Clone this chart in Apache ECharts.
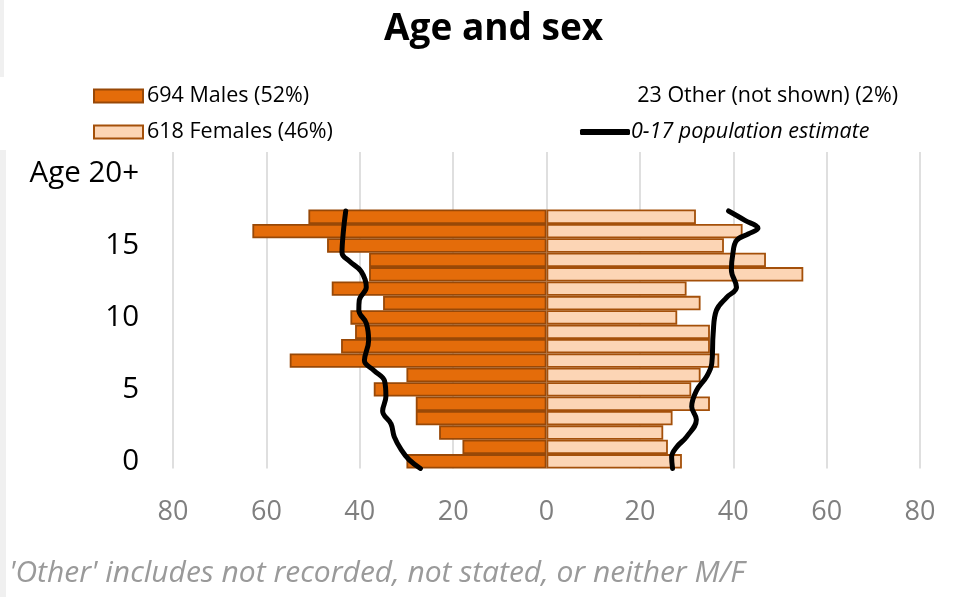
<!DOCTYPE html>
<html>
<head>
<meta charset="utf-8">
<script src="https://cdn.jsdelivr.net/npm/echarts@6/dist/echarts.min.js"></script>
<style>
  html, body { margin: 0; padding: 0; background: #fff; }
  #chart { width: 973px; height: 597px; }
</style>
</head>
<body>
<div id="chart"></div>
<script>
// age categories (0..21, only 0..17 have bars; 20 is labelled "Age 20+")
const ages = ['0','1','2','3','4','5','6','7','8','9','10','11','12','13','14','15','16','17','18','19','20','21'];
const males   = [30, 18, 23, 28, 28, 37, 30, 55, 44, 41, 42, 35, 46, 38, 38, 47, 63, 51];
const females = [29, 26, 25, 27, 35, 31, 33, 37, 35, 35, 28, 33, 30, 55, 47, 38, 42, 32];
const xTicks = [-80, -60, -40, -20, 0, 20, 40, 60, 80];

// 0-17 population estimate, [count, age position]
const maleEstimate = [
  [27.0, -0.5], [29.4, 0.1], [31.1, 0.8], [32.6, 1.7], [33.3, 2.6], [35.1, 3.5],
  [34.4, 4.5], [34.7, 5.6], [36.9, 6.3], [39.0, 7.0], [38.1, 8.4], [38.6, 9.6],
  [40.2, 10.5], [40.1, 11.2], [38.6, 12.1], [39.7, 13.2], [42.2, 13.9], [43.8, 14.5],
  [43.5, 16.0], [43.0, 17.4]
];
const femaleEstimate = [
  [27.0, -0.5], [26.8, 0.3], [27.9, 1.0], [30.0, 1.7], [32.1, 2.9], [31.1, 3.8],
  [32.1, 4.9], [34.3, 5.9], [35.4, 6.8], [35.7, 8.9], [36.4, 10.5], [38.6, 11.4],
  [40.7, 12.1], [39.6, 13.3], [39.9, 14.4], [40.7, 15.35], [43.2, 15.8], [45.3, 16.2],
  [42.5, 16.75], [39.0, 17.4]
];

const FONT = '"Open Sans", "Noto Sans", sans-serif';
const chart = echarts.init(document.getElementById('chart'));

chart.setOption({
  backgroundColor: '#fff',
  animation: false,
  title: [
    {
      text: 'Age and sex',
      left: 384, top: 11, padding: 0,
      textStyle: { fontFamily: FONT, fontSize: 37, fontWeight: 'bold', color: '#000' }
    },
    {
      text: "'Other' includes not recorded, not stated, or neither M/F",
      left: 9, top: 558, padding: 0,
      textStyle: { fontFamily: FONT, fontSize: 30, fontStyle: 'italic', fontWeight: 'normal', color: '#9a9a9a' }
    }
  ],
  legend: [
    {
      data: ['694 Males (52%)', '618 Females (46%)'],
      orient: 'vertical',
      left: 93, top: 85, padding: 0,
      icon: 'rect',
      itemWidth: 49, itemHeight: 13, itemGap: 14,
      textStyle: { fontFamily: FONT, fontSize: 21.5, color: '#000', padding: [0, 0, 0, -1] }
    },
    {
      data: [{ name: '0-17 population estimate', icon: 'roundRect', textStyle: { fontStyle: 'italic' } }],
      left: 580, top: 121, padding: 0,
      itemWidth: 50, itemHeight: 6,
      itemStyle: { color: '#000', borderWidth: 0 },
      textStyle: { fontFamily: FONT, fontSize: 21.5, color: '#000', padding: [0, 0, 0, -4] }
    }
  ],
  graphic: [
    { type: 'rect', shape: { x: 0, y: 0, width: 4, height: 77 }, style: { fill: '#f0f0f0' } },
    { type: 'rect', shape: { x: 0, y: 150, width: 6, height: 447 }, style: { fill: '#f0f0f0' } },
    {
      type: 'text', right: 75, top: 85,
      style: { text: '23 Other (not shown) (2%)', fontFamily: FONT, fontSize: 21.5, fill: '#000' }
    }
  ],
  grid: { left: 173, right: 53, top: 152, bottom: 128.5, containLabel: false },
  xAxis: {
    type: 'value',
    min: -80, max: 80, interval: 20,
    axisLine: { show: false },
    axisTick: { show: false },
    axisLabel: {
      fontFamily: FONT, fontSize: 27, color: '#7f7f7f', margin: 30,
      customValues: xTicks,
      formatter: v => String(Math.abs(v))
    },
    splitLine: { lineStyle: { color: '#d4d4d4', width: 1.5 } }
  },
  yAxis: [
    {
      type: 'category',
      data: ages,
      axisLine: { show: false },
      axisTick: { show: false },
      splitLine: { show: false },
      axisLabel: {
        fontFamily: FONT, fontSize: 29.5, color: '#000', margin: 34,
        interval: (i) => i % 5 === 0 && i <= 20,
        formatter: v => (v === '20' ? 'Age 20+' : v)
      }
    },
    { type: 'value', min: -0.5, max: 21.5, show: false }
  ],
  series: [
    {
      name: '694 Males (52%)',
      type: 'bar',
      data: males.map(v => -v),
      barGap: '-100%', barCategoryGap: 0,
      itemStyle: { color: '#e46c0a', borderColor: '#984807', borderWidth: 1.8 }
    },
    {
      name: '618 Females (46%)',
      type: 'bar',
      data: females,
      barGap: '-100%', barCategoryGap: 0,
      itemStyle: { color: '#fcd5b5', borderColor: '#a4500a', borderWidth: 1.8 }
    },
    {
      name: '0-17 population estimate',
      type: 'line',
      yAxisIndex: 1,
      data: maleEstimate.map(p => [-p[0], p[1]]),
      smooth: 0.4, symbol: 'none',
      lineStyle: { color: '#000', width: 5, cap: 'round' },
      itemStyle: { color: '#000' }
    },
    {
      name: '0-17 population estimate',
      type: 'line',
      yAxisIndex: 1,
      data: femaleEstimate,
      smooth: 0.4, symbol: 'none',
      lineStyle: { color: '#000', width: 5, cap: 'round' },
      itemStyle: { color: '#000' }
    }
  ]
});
</script>
</body>
</html>
